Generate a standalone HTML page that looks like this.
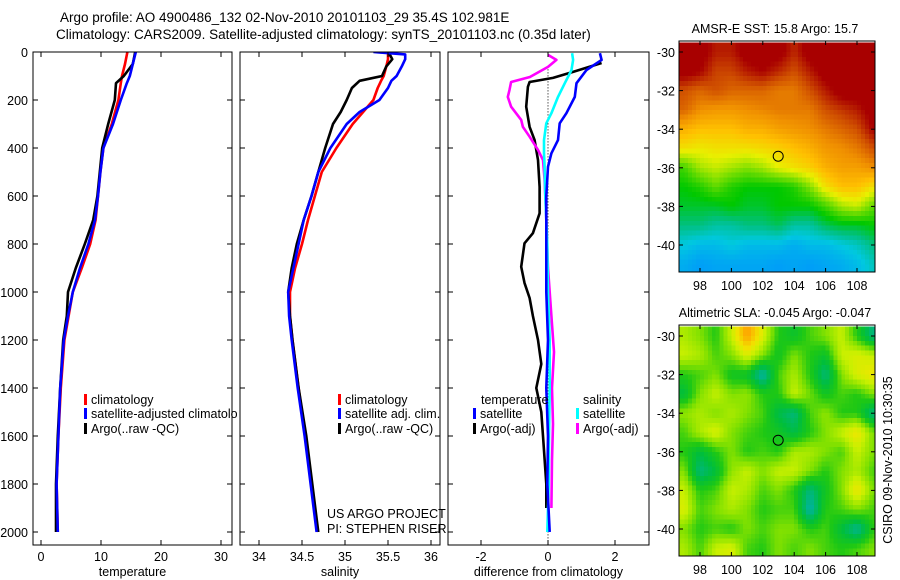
<!DOCTYPE html>
<html><head><meta charset="utf-8"><style>
html,body{margin:0;padding:0;background:#fff;}
svg{display:block;font-family:"Liberation Sans",sans-serif;}
text{fill:#000;}
</style></head><body>
<svg id="fig" width="900" height="580" viewBox="0 0 900 580" xmlns="http://www.w3.org/2000/svg">
<g font-size="13.5">
<text x="60" y="22">Argo profile: AO 4900486_132 02-Nov-2010 20101103_29 35.4S 102.981E</text>
<text x="56" y="39">Climatology: CARS2009. Satellite-adjusted climatology: synTS_20101103.nc (0.35d later)</text>
</g>
<text transform="translate(892,460) rotate(-90)" text-anchor="middle" font-size="12.5">CSIRO 09-Nov-2010 10:30:35</text>
</svg>
<script>
// ---------- data ----------
const depths = [0,50,100,130,200,300,400,500,600,700,800,900,1000,1100,1200,1400,1600,1800,2000];
const tempClim = [14.4,14.0,13.5,13.3,12.9,11.8,10.4,9.9,9.5,9.1,8.2,6.8,5.3,4.6,3.9,3.3,2.9,2.6,2.8];
const tempSat  = [15.8,15.3,14.8,14.3,13.3,12.0,10.4,9.9,9.5,9.0,7.9,6.5,5.3,4.5,3.8,3.2,2.9,2.6,2.8];
const tempArgo = [15.7,15.3,13.8,12.5,12.3,11.2,10.2,9.8,9.4,8.7,7.3,5.8,4.5,4.3,3.7,3.2,2.8,2.5,2.5];

const salDepths = [0,10,30,60,100,120,150,200,250,300,400,500,600,700,800,900,1000,1100,1200,1400,1600,1800,2000];
const salClim = [35.50,35.50,35.50,35.48,35.45,35.42,35.38,35.33,35.21,35.09,34.90,34.73,34.65,34.57,34.50,34.42,34.36,34.36,34.39,34.46,34.54,34.61,34.68];
const salSat  = [35.33,35.70,35.70,35.66,35.60,35.54,35.50,35.40,35.17,35.02,34.83,34.69,34.61,34.52,34.46,34.40,34.34,34.35,34.38,34.45,34.53,34.60,34.67];
const salArgo = [35.49,35.52,35.55,35.48,35.43,35.17,35.08,35.02,34.95,34.86,34.77,34.69,34.61,34.52,34.44,34.38,34.34,34.36,34.39,34.46,34.55,34.62,34.69];

const diffDepths = [5,33,75,130,187,255,297,367,422,478,600,800,1000,1200,1400,1600,1800,2000];
const diffTempSat = [1.55,1.6,1.15,0.85,0.8,0.55,0.35,0.3,0.1,0.0,-0.05,-0.05,-0.05,0.0,-0.05,0.0,-0.02,0.05];
const diffSalSat  = [0.72,0.75,0.7,0.5,0.3,0.1,-0.05,-0.12,-0.12,-0.1,-0.08,-0.02,0.0,0.05,0.05,0.03,0.02,-0.02];
const diffTempArgoDepths = [46,83,108,125,145,228,312,367,450,562,672,755,797,895,962,1025,1100,1200,1300,1400,1500,1600,1800,1900];
const diffTempArgo = [1.6,0.75,0.15,-0.55,-0.6,-0.65,-0.55,-0.4,-0.3,-0.25,-0.25,-0.45,-0.7,-0.8,-0.7,-0.55,-0.45,-0.3,-0.2,-0.35,-0.2,-0.15,-0.05,-0.05];
const diffSalArgoDepths = [12,33,62,104,125,158,187,228,283,312,353,408,450,533,700,900,1100,1250,1400,1550,1700,1900];
const diffSalArgo = [0.0,0.25,0.0,-0.54,-1.1,-1.15,-1.2,-1.1,-0.8,-0.75,-0.55,-0.3,-0.15,-0.1,-0.05,0.0,0.1,0.18,0.12,0.15,0.12,0.1];

const lons = [97,98,99,100,101,102,103,104,105,106,107,108,109];
const lats = [-30,-31,-32,-33,-34,-35,-36,-37,-38,-39,-40,-41];
const sstGrid = [
[18,18,17.6,17.6,18,18,18,17.5,18,18,18,18,18],
[18,17.8,17.3,17.3,17.6,17.8,17.5,17.2,17.6,18,18,18,18],
[17.2,17,17.2,17,17.0,17.0,16.8,16.8,17.2,17.6,18,18,18],
[17,16.6,16.5,16.5,16.6,16.7,16.8,16.8,16.8,17.2,17.4,17.6,18],
[16.2,16,16,16,16.2,16.2,16.4,16.5,16.6,16.8,17,17.2,17.8],
[15.6,15.5,15.6,15.6,15.6,15.7,15.8,16,16.2,16.5,16.6,16.8,17.2],
[14.4,15,15.2,15,14.8,15,15.4,15.6,15.8,16.2,16.4,16.4,16.6],
[14.0,14.2,14.6,14.2,14,14,14,14.2,14.8,15.6,16,16,15.6],
[13.8,13.8,13.8,14,13.8,13.8,14,14,14,14.4,15,15.2,14.6],
[13.4,13.4,13.2,13.2,13.4,13.4,13.6,13.2,13.2,13.6,13.8,13.8,14],
[12.8,12.6,12.6,12.8,12.6,12.6,12.6,12.4,12.6,12.6,12.8,13,13.4],
[12.4,12.2,12.3,12.3,12.3,12.3,12.2,12.3,12.2,12.3,12.4,12.6,13]];
const slaGrid = [
[0.08,0.05,0.0,0.1,0.25,0.12,0.0,-0.03,0.02,0.05,0.1,0.0,-0.1],
[0.1,0.08,0.02,0.05,0.12,0.05,-0.02,0.05,0.0,-0.03,0.1,0.12,0.1],
[0.0,0.02,0.05,-0.02,-0.03,-0.14,0.02,0.08,0.0,-0.1,0.05,0.12,0.15],
[-0.05,0.05,0.1,0.05,0.06,0.0,0.0,0.1,0.04,-0.02,0.02,0.0,0.05],
[0.06,0.08,0.05,0.08,0.05,0.02,-0.06,-0.1,0.02,0.06,0.0,0.0,-0.1],
[0.02,0.08,0.12,0.05,0.02,0.0,-0.02,-0.06,0.0,0.05,0.1,0.15,0.05],
[0.0,-0.05,0.0,0.05,0.0,0.02,0.0,0.08,0.08,0.05,0.02,0.1,0.05],
[0.05,-0.1,-0.05,0.06,0.1,0.05,0.1,0.1,0.05,0.0,0.05,0.08,0.02],
[0.1,0.0,0.02,0.1,0.08,0.02,0.05,0.0,-0.1,-0.02,0.05,0.15,0.05],
[0.12,0.02,0.05,0.08,0.05,0.0,0.02,0.02,-0.14,0.0,0.02,0.05,0.02],
[0.05,0.0,0.02,0.0,0.05,0.02,0.05,0.05,0.0,0.02,-0.05,-0.12,0.0],
[0.08,0.02,0.1,0.12,0.02,0.0,0.05,0.02,0.05,0.02,0.0,0.02,0.05]];
const argoLon = 102.981, argoLat = -35.4;

const depthTicks = [0,200,400,600,800,1000,1200,1400,1600,1800,2000];
const tempTicks = [0,10,20,30];
const salTicks = [34,34.5,35,35.5,36];
const diffTicks = [-2,0,2];
const lonTicks = [98,100,102,104,106,108];
const latTicks = [-30,-32,-34,-36,-38,-40];

// ---------- helpers ----------
const NS="http://www.w3.org/2000/svg";
const svg=document.getElementById('fig');
function mk(tag,attrs,parent){const e=document.createElementNS(NS,tag);for(const k in attrs)e.setAttribute(k,attrs[k]);(parent||svg).appendChild(e);return e;}
function lin(d0,d1,r0,r1){return v=>r0+(v-d0)*(r1-r0)/(d1-d0);}
const yD = lin(0,2000,52,532);

function panel(name,x0,x1,xs,ticks,fmt,xlabel,showY,clipExtra){
  const g=mk('g',{});
  
  
  const cp=mk('clipPath',{id:name+'-clip'},g);mk('rect',{x:x0,y:52,width:x1-x0+(clipExtra||0),height:493},cp);
  const inner=mk('g',{'clip-path':'url(#'+name+'-clip)'},g);
  const r=mk('rect',{x:x0,y:52,width:x1-x0,height:493,fill:'none',stroke:'#000','stroke-width':1},g);
  
  
  depthTicks.forEach(d=>{const y=yD(d);
    mk('line',{x1:x0,x2:x0+5,y1:y,y2:y,stroke:'#000'},g);
    mk('line',{x1:x1,x2:x1-5,y1:y,y2:y,stroke:'#000'},g);
    if(showY){const t=mk('text',{x:x0-5,y:y+5,'text-anchor':'end','font-size':12.5},g);t.textContent=d;
      
      }
  });
  ticks.forEach(v=>{const x=xs(v);
    mk('line',{x1:x,x2:x,y1:545,y2:540,stroke:'#000'},g);
    mk('line',{x1:x,x2:x,y1:52,y2:57,stroke:'#000'},g);
    const t=mk('text',{x:x,y:561,'text-anchor':'middle','font-size':12.5},g);t.textContent=fmt(v);
    
    
  });
  const xl=mk('text',{x:(x0+x1)/2,y:576,'text-anchor':'middle','font-size':12.5},g);xl.textContent=xlabel;
  
  
  return inner;
}
function line(g,xs,vals,ds,color,name,w){
  const p=vals.map((v,i)=>(i?'L':'M')+xs(v).toFixed(1)+','+yD(ds[i]).toFixed(1)).join('');
  const e=mk('path',{d:p,fill:'none',stroke:color,'stroke-width':w||2.6,'stroke-linejoin':'round'},g);
  
  
}
function legend(g,x,y,color,label){
  const m=mk('rect',{x:x,y:y-10,width:3,height:11,fill:color},g);
  
  
  const t=mk('text',{x:x+7,y:y,'font-size':12.5},g);t.textContent=label;
  
  
}

// ---------- temperature panel ----------
const xT=lin(0,10,41,101);
const gT=panel('temperature-panel',33,232,xT,tempTicks,v=>v,'temperature',true,5);
line(gT,xT,tempClim,depths,'#ff0000','temp-climatology-line');
line(gT,xT,tempArgo,depths,'#000','temp-argo-line');
line(gT,xT,tempSat,depths,'#0000ff','temp-satellite-line');
legend(gT,84,404,'#ff0000','climatology');
legend(gT,84,418,'#0000ff','satellite-adjusted climatology');
legend(gT,84,433,'#000','Argo(..raw -QC)');

// ---------- salinity panel ----------
const xS=lin(34,36,259,431);
const gS=panel('salinity-panel',240,440,xS,salTicks,v=>v,'salinity',false,8);
line(gS,xS,salClim,salDepths,'#ff0000','sal-climatology-line');
line(gS,xS,salArgo,salDepths,'#000','sal-argo-line');
line(gS,xS,salSat,salDepths,'#0000ff','sal-satellite-line');
legend(gS,338,404,'#ff0000','climatology');
legend(gS,338,418,'#0000ff','satellite adj. clim.');
legend(gS,338,433,'#000','Argo(..raw -QC)');
[['US ARGO PROJECT',518],['PI: STEPHEN RISER',533]].forEach(a=>{const t=mk('text',{x:327,y:a[1],'font-size':12.5},gS);t.textContent=a[0];
  
  });

// ---------- difference panel ----------
const xDf=lin(0,2,548,615);
const gD=panel('difference-panel',448,649,xDf,diffTicks,v=>v,'difference from climatology',false,0);
const zl=mk('line',{x1:xDf(0),x2:xDf(0),y1:yD(60),y2:545,stroke:'#000','stroke-dasharray':'1,2'},gD);


line(gD,xDf,diffTempArgo,diffTempArgoDepths,'#000','diff-temp-argo-line');
line(gD,xDf,diffSalArgo,diffSalArgoDepths,'#ff00ff','diff-sal-argo-line');
line(gD,xDf,diffSalSat,diffDepths,'#00ffff','diff-sal-satellite-line');
line(gD,xDf,diffTempSat,diffDepths,'#0000ff','diff-temp-satellite-line');
const lt1=mk('text',{x:481,y:404,'font-size':12.5},gD);lt1.textContent='temperature';


const lt2=mk('text',{x:583,y:404,'font-size':12.5},gD);lt2.textContent='salinity';


legend(gD,473,418,'#0000ff','satellite');
legend(gD,473,433,'#000','Argo(-adj)');
legend(gD,576,418,'#00ffff','satellite');
legend(gD,576,433,'#ff00ff','Argo(-adj)');

// ---------- maps ----------
function interp(stops,v){
  if(v<=stops[0][0])return stops[0][1];
  for(let i=1;i<stops.length;i++){if(v<=stops[i][0]){const a=stops[i-1],b=stops[i],t=(v-a[0])/(b[0]-a[0]);
    return a[1].map((x,k)=>Math.round(x+(b[1][k]-x)*t));}}
  return stops[stops.length-1][1];
}
const sstStops=[[12,[0,144,255]],[12.8,[0,200,224]],[13.4,[0,192,128]],[14,[0,200,0]],[14.8,[128,224,0]],[15.4,[232,240,0]],[16,[255,192,0]],[16.6,[240,144,0]],[17.2,[208,80,0]],[17.8,[168,0,0]]];
const slaStops=[[-0.2,[0,230,210]],[-0.12,[0,180,150]],[-0.05,[0,190,60]],[0,[30,200,20]],[0.05,[130,225,0]],[0.1,[200,240,0]],[0.15,[240,230,0]],[0.25,[255,160,0]]];

function sample(grid,fi,fj){
  const ni=grid.length,nj=grid[0].length;
  fi=Math.max(0,Math.min(ni-1,fi));fj=Math.max(0,Math.min(nj-1,fj));
  const i0=Math.floor(fi),j0=Math.floor(fj),i1=Math.min(ni-1,i0+1),j1=Math.min(nj-1,j0+1);
  const ti=fi-i0,tj=fj-j0;
  return (grid[i0][j0]*(1-tj)+grid[i0][j1]*tj)*(1-ti)+(grid[i1][j0]*(1-tj)+grid[i1][j1]*tj)*ti;
}
function mapPanel(name,y0,title,grid,stops){
  const x0=679,x1=875,y1=y0+231;
  const xs=lin(98,108,700,857);
  const ys=lin(-30,-40,y0+11,y0+204);
  const g=mk('g',{});
  
  
  const cid=name+'-clip';
  const cp=mk('clipPath',{id:cid},g);mk('rect',{x:x0,y:y0,width:x1-x0,height:y1-y0},cp);
  const cells=mk('g',{'clip-path':'url(#'+cid+')','shape-rendering':'crispEdges'},g);
  const sub=4, step=1/sub;
  const cw=(xs(1)-xs(0))*step, ch=(ys(-1)-ys(0))*step;
  for(let a=-0.5;a<lats.length-0.5;a+=step){
    for(let b=-0.5;b<lons.length-0.5;b+=step){
      const v=sample(grid,a+step/2,b+step/2);
      const c=interp(stops,v);
      const lon=lons[0]+b, lat=lats[0]-a;
      const r=mk('rect',{x:xs(lon).toFixed(2),y:ys(lat).toFixed(2),width:(cw+0.5).toFixed(2),height:(ch+0.5).toFixed(2),fill:'rgb('+c.join(',')+')'},cells);
      
      
    }
  }
  const fr=mk('rect',{x:x0,y:y0,width:x1-x0,height:y1-y0,fill:'none',stroke:'#000'},g);
  
  
  lonTicks.forEach(v=>{const x=xs(v);mk('line',{x1:x,x2:x,y1:y1,y2:y1-4,stroke:'#000'},g);mk('line',{x1:x,x2:x,y1:y0,y2:y0+4,stroke:'#000'},g);
    const t=mk('text',{x:x,y:y1+18,'text-anchor':'middle','font-size':12.5},g);t.textContent=v;
    
    });
  latTicks.forEach(v=>{const y=ys(v);mk('line',{x1:x0,x2:x0+4,y1:y,y2:y,stroke:'#000'},g);mk('line',{x1:x1,x2:x1-4,y1:y,y2:y,stroke:'#000'},g);
    const t=mk('text',{x:x0-4,y:y+5,'text-anchor':'end','font-size':12.5},g);t.textContent=v;
    
    });
  const c=mk('circle',{cx:xs(argoLon),cy:ys(argoLat),r:5,fill:'none',stroke:'#000','stroke-width':1},g);
  
  
  const t=mk('text',{x:(x0+x1)/2-2,y:y0-8,'text-anchor':'middle','font-size':12.5},g);t.textContent=title;
  
  
}
mapPanel('sst-map',41,'AMSR-E SST: 15.8 Argo: 15.7',sstGrid,sstStops);
mapPanel('sla-map',325,'Altimetric SLA: -0.045 Argo: -0.047',slaGrid,slaStops);
</script>
</body></html>
